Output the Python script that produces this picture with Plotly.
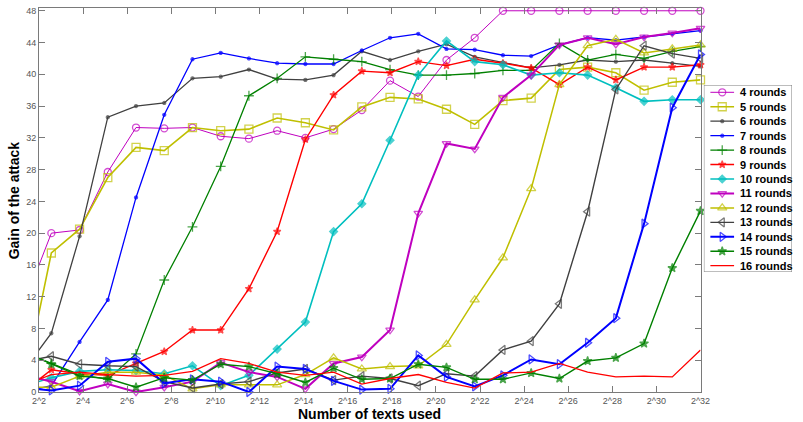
import plotly.graph_objects as go

# log2 of the number of texts used at each measurement
log2_texts = [1.28, 2.56, 3.84, 5.12, 6.40, 7.68, 8.96, 10.24, 11.52, 12.80,
              14.08, 15.36, 16.64, 17.92, 19.20, 20.48, 21.76, 23.04, 24.32,
              25.60, 26.88, 28.16, 29.44, 30.72, 32.00]

tick_exponents = [2, 4, 6, 8, 10, 12, 14, 16, 18, 20, 22, 24, 26, 28, 30, 32]
tick_labels = ["2^2", "2^4", "2^6", "2^8", "2^10", "2^12", "2^14", "2^16",
               "2^18", "2^20", "2^22", "2^24", "2^26", "2^28", "2^30", "2^32"]
gain_ticks = [0, 4, 8, 12, 16, 20, 24, 28, 32, 36, 40, 44, 48]

series_names = ["4 rounds", "5 rounds", "6 rounds", "7 rounds", "8 rounds",
                "9 rounds", "10 rounds", "11 rounds", "12 rounds", "13 rounds",
                "14 rounds", "15 rounds", "16 rounds"]

gain_4 = [10.8, 20.0, 20.4, 27.7, 33.3, 33.2, 33.3, 32.2, 31.9, 32.9, 32.0, 33.1, 35.5,
          39.2, 37.2, 41.8, 44.6, 48.0, 48.0, 48.0, 48.0, 48.0, 48.0, 48.0, 48.0]
gain_5 = [0.3, 17.5, 20.5, 27.0, 30.8, 30.4, 33.3, 32.9, 33.1, 34.5, 33.9, 33.0, 35.9,
          37.1, 36.9, 35.6, 33.7, 36.7, 37.0, 40.6, 40.9, 40.2, 38.0, 39.0, 39.3]
gain_6 = [2.6, 7.4, 19.6, 34.6, 36.0, 36.4, 39.5, 39.7, 40.6, 39.4, 39.3, 39.9, 42.9,
          41.8, 42.9, 43.8, 42.2, 41.5, 40.8, 41.2, 41.8, 41.6, 41.8, 41.4, 41.0]
gain_7 = [0.0, 0.8, 6.3, 11.6, 24.5, 34.9, 41.9, 42.7, 42.0, 41.4, 41.3, 41.3, 43.0,
          44.6, 45.1, 43.2, 43.1, 42.4, 42.3, 43.7, 44.6, 44.3, 44.7, 45.1, 45.5]
gain_8 = [5.0, 3.6, 2.2, 1.6, 4.8, 14.1, 20.8, 28.4, 37.3, 39.5, 42.2, 41.9, 41.6,
          40.6, 39.9, 39.9, 40.1, 40.5, 40.5, 43.9, 41.8, 42.5, 42.0, 42.9, 43.5]
gain_9 = [0.0, 2.8, 2.3, 2.1, 3.6, 5.1, 7.8, 7.8, 13.0, 20.2, 31.8, 37.4, 40.4,
          40.2, 41.6, 41.1, 41.9, 41.4, 40.8, 38.7, 40.9, 39.3, 40.9, 40.9, 41.2]
gain_10 = [0.7, 1.8, 2.6, 2.8, 2.7, 2.3, 3.3, 0.8, 2.1, 5.4, 8.8, 20.2, 23.7,
           31.7, 39.9, 44.2, 41.6, 41.2, 39.9, 40.2, 39.9, 38.3, 36.6, 36.8, 36.8]
gain_11 = [2.2, 1.3, 0.1, 1.0, 0.0, 0.6, 1.3, 3.7, 2.5, 1.9, 0.4, 3.6, 4.4,
           7.8, 22.5, 31.3, 30.6, 37.1, 39.9, 43.7, 44.6, 43.8, 44.7, 45.2, 45.8]
gain_12 = [0.6, 0.6, 2.0, 2.5, 2.5, 2.1, 0.4, 0.9, 0.9, 0.9, 2.2, 4.3, 2.9,
           3.2, 3.3, 6.0, 11.6, 16.9, 25.6, 38.7, 43.6, 44.4, 42.7, 43.2, 43.7]
gain_13 = [3.8, 4.5, 3.5, 3.3, 3.2, 1.3, 0.5, 1.0, 1.3, 2.4, 2.9, 1.5, 2.0,
           1.7, 0.8, 2.3, 2.0, 5.3, 6.4, 11.1, 22.7, 38.1, 43.6, 42.6, 42.0]
gain_14 = [0.5, 0.2, 0.8, 3.8, 4.2, 1.1, 1.6, 1.3, 0.0, 3.2, 2.9, 1.4, 0.3,
           0.4, 4.6, 1.9, 0.7, 2.1, 4.1, 3.5, 6.2, 9.3, 21.2, 35.8, 42.5]
gain_15 = [5.1, 3.5, 2.0, 1.7, 0.6, 1.8, 1.5, 3.5, 3.2, 2.3, 1.2, 3.0, 1.6,
           1.7, 3.5, 3.1, 1.6, 1.6, 2.4, 1.7, 3.9, 4.3, 6.1, 15.6, 22.8]
gain_16 = [0.8, 2.2, 2.5, 2.2, 2.0, 2.1, 2.6, 4.2, 3.6, 2.5, 2.1, 2.5, 1.0,
           1.7, 2.2, 1.2, 0.5, 2.4, 2.5, 3.6, 2.5, 1.9, 2.0, 1.9, 5.3]

all_gains = [gain_4, gain_5, gain_6, gain_7, gain_8, gain_9, gain_10,
             gain_11, gain_12, gain_13, gain_14, gain_15, gain_16]

# MATLAB-like colour order and marker set for each series
BLUE, GREEN, RED = "#0000ff", "#008000", "#ff0000"
CYAN, MAGENTA, YELLOW, GRAY = "#00bfbf", "#bf00bf", "#bfbf00", "#404040"
styles = [
    dict(color=MAGENTA, symbol="circle-open", size=7, width=1.0),
    dict(color=YELLOW, symbol="square-open", size=8, width=1.6),
    dict(color=GRAY, symbol="circle", size=3, width=1.3),
    dict(color=BLUE, symbol="circle", size=3, width=1.3),
    dict(color=GREEN, symbol="cross-thin-open", size=7, width=1.3),
    dict(color=RED, symbol="star", size=5.5, width=1.4),
    dict(color=CYAN, symbol="diamond", size=6, width=1.6),
    dict(color=MAGENTA, symbol="triangle-down-open", size=7.5, width=2.0),
    dict(color=YELLOW, symbol="triangle-up-open", size=8, width=1.5),
    dict(color=GRAY, symbol="triangle-left-open", size=8, width=1.4),
    dict(color=BLUE, symbol="triangle-right-open", size=8, width=2.0),
    dict(color=GREEN, symbol="star", size=6.5, width=1.4),
    dict(color=RED, symbol=None, size=0, width=1.3),
]

FONT = "Arial, Liberation Sans, sans-serif"
AXIS_GRAY = "#7a7a7a"

# horizontal layout in pixels (803 x 422 canvas)
W, H = 803, 422
ML, MR, MT, MB = 39, 1, 8, 30
plot_w = W - ML - MR
plot_h = H - MT - MB
axis_right_px = 709.3
main_dom = (axis_right_px - ML) / plot_w

fig = go.Figure()

n_pts = len(log2_texts)
for name, gains, st in zip(series_names, all_gains, styles):
    has_marker = st["symbol"] is not None
    # first sample sits left of the axis window; its marker is hidden
    sizes = [0] + [st["size"]] * (n_pts - 1)
    fig.add_trace(go.Scatter(
        x=log2_texts, y=gains, name=name,
        mode="lines+markers" if has_marker else "lines",
        line=dict(color=st["color"], width=st["width"]),
        marker=dict(symbol=st["symbol"] or "circle", size=sizes,
                    color=st["color"], line=dict(color=st["color"], width=1.3)),
        cliponaxis=False, showlegend=False,
        xaxis="x", yaxis="y",
    ))

# hand-built legend box in its own pixel-scaled overlay axes
leg_left, leg_right = 712.7, 802.0
leg_top, leg_bottom = 85.0, 272.0
leg_w = leg_right - leg_left
leg_h = leg_bottom - leg_top
x2_dom = [(leg_left - ML) / plot_w, (leg_right - ML) / plot_w]
y2_dom = [(H - MB - leg_bottom) / plot_h, (H - MB - leg_top) / plot_h]
row_gap = 14.45
first_row = 7.3
key_x0, key_x1 = 6.6, 30.6
key_mid = (key_x0 + key_x1) / 2
label_x = 34.6

fig.add_shape(type="rect", xref="x2", yref="y2", x0=0, x1=leg_w, y0=0, y1=leg_h,
              line=dict(color=AXIS_GRAY, width=1), fillcolor="white", layer="below")

for i, (name, st) in enumerate(zip(series_names, styles)):
    ry = first_row + row_gap * i
    has_marker = st["symbol"] is not None
    fig.add_trace(go.Scatter(
        x=[key_x0, key_mid, key_x1], y=[ry, ry, ry],
        mode="lines+markers" if has_marker else "lines",
        line=dict(color=st["color"], width=st["width"]),
        marker=dict(symbol=st["symbol"] or "circle", size=[0, st["size"], 0],
                    color=st["color"], line=dict(color=st["color"], width=1.3)),
        cliponaxis=False, showlegend=False, hoverinfo="skip",
        xaxis="x2", yaxis="y2",
    ))
    fig.add_annotation(x=label_x, y=ry, xref="x2", yref="y2", text=name,
                       showarrow=False, xanchor="left", yanchor="middle",
                       font=dict(family=FONT, size=11, color="black", weight="bold"))

# axis titles
fig.add_annotation(x=(14 - ML) / plot_w, y=0.5, xref="paper", yref="paper",
                   text="Gain of the attack", textangle=-90, showarrow=False,
                   xanchor="center", yanchor="middle",
                   font=dict(family=FONT, size=14, color="black", weight="bold"))
fig.add_annotation(x=((ML + axis_right_px) / 2 - ML) / plot_w,
                   y=(H - MB - 413.5) / plot_h, xref="paper", yref="paper",
                   text="Number of texts used", showarrow=False,
                   xanchor="center", yanchor="middle",
                   font=dict(family=FONT, size=14, color="black", weight="bold"))

axis_common = dict(showline=True, linecolor=AXIS_GRAY, linewidth=1, mirror="ticks",
                   ticks="inside", ticklen=6, tickcolor=AXIS_GRAY, tickwidth=1,
                   showgrid=False, zeroline=False,
                   tickfont=dict(family=FONT, size=9, color="#555555"))

fig.update_layout(
    width=W, height=H,
    margin=dict(l=ML, r=MR, t=MT, b=MB, pad=0),
    paper_bgcolor="white", plot_bgcolor="white",
    showlegend=False,
    xaxis=dict(domain=[0, main_dom], range=[2, 32], tickvals=tick_exponents,
               ticktext=tick_labels, anchor="y", **axis_common),
    yaxis=dict(domain=[0, 1], range=[0, 48.35], tickvals=gain_ticks,
               anchor="x", **axis_common),
    xaxis2=dict(domain=x2_dom, range=[0, leg_w], visible=False, anchor="y2",
                fixedrange=True),
    yaxis2=dict(domain=y2_dom, range=[leg_h, 0], visible=False, anchor="x2",
                fixedrange=True),
)

fig.write_html("out.html")
